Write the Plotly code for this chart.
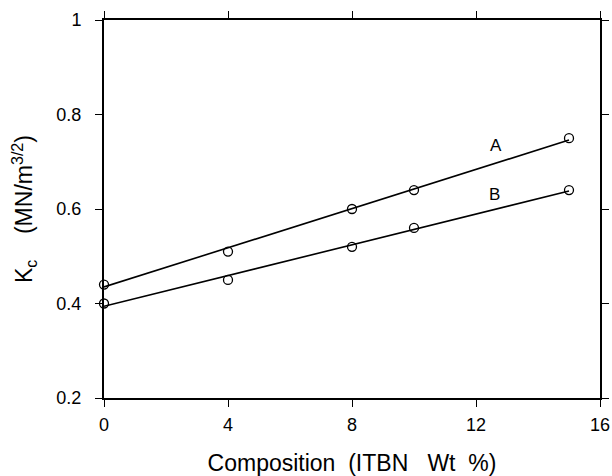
import plotly.graph_objects as go

# Data
composition = [0, 4, 8, 10, 15]
kc_A = [0.44, 0.51, 0.60, 0.64, 0.75]
kc_B = [0.40, 0.45, 0.52, 0.56, 0.64]

# fitted straight lines (endpoints)
fit_x = [0, 15]
fit_A = [0.435, 0.746]
fit_B = [0.394, 0.638]

x_ticks = [0, 4, 8, 12, 16]
y_ticks = [0.2, 0.4, 0.6, 0.8, 1.0]
y_tick_labels = ["0.2", "0.4", "0.6", "0.8", "1"]

labels = ["A", "B"]
label_x = [12.65, 12.6]
label_y = [0.735, 0.63]

FONT = "Liberation Sans, Arial, Helvetica, sans-serif"
PAD = "\u00a0\u00a0"

fig = go.Figure()
for fy in (fit_A, fit_B):
    fig.add_trace(go.Scatter(x=fit_x, y=fy, mode="lines",
                             line=dict(color="black", width=1.6),
                             showlegend=False, hoverinfo="skip"))
for ky in (kc_A, kc_B):
    fig.add_trace(go.Scatter(x=composition, y=ky, mode="markers",
                             marker=dict(symbol="circle-open", size=9,
                                         color="black", line=dict(width=1.3)),
                             showlegend=False, cliponaxis=False))

for t, xx, yy in zip(labels, label_x, label_y):
    fig.add_annotation(x=xx, y=yy, text=t, showarrow=False,
                       font=dict(family=FONT, size=17, color="black"))

axis_common = dict(showline=True, linecolor="black", linewidth=2, mirror="ticks",
                   ticks="outside", ticklen=7, tickwidth=1.2, tickcolor="black",
                   showgrid=False, zeroline=False, automargin=False,
                   tickfont=dict(family=FONT, size=18, color="black"))

fig.update_xaxes(range=[0, 16], tickvals=x_ticks, ticktext=[str(v) for v in x_ticks],
                 ticklabelstandoff=2,
                 title=dict(text="Composition&nbsp;&nbsp;(ITBN&nbsp;&nbsp;&nbsp;Wt&nbsp;&nbsp;%)",
                            font=dict(family=FONT, size=23, color="black"), standoff=25),
                 **axis_common)
fig.update_yaxes(range=[0.2, 1.0], tickvals=y_ticks,
                 ticktext=[t + PAD for t in y_tick_labels],
                 title=dict(text="K<sub>c</sub>&nbsp;&nbsp;&nbsp;&nbsp;(MN/m<sup>3/2</sup>)",
                            font=dict(family=FONT, size=23, color="black"), standoff=17),
                 **axis_common)

fig.update_layout(width=612, height=476, margin=dict(l=104, r=12, t=20, b=78),
                  paper_bgcolor="white", plot_bgcolor="white", showlegend=False)

fig.write_html("out.html")
